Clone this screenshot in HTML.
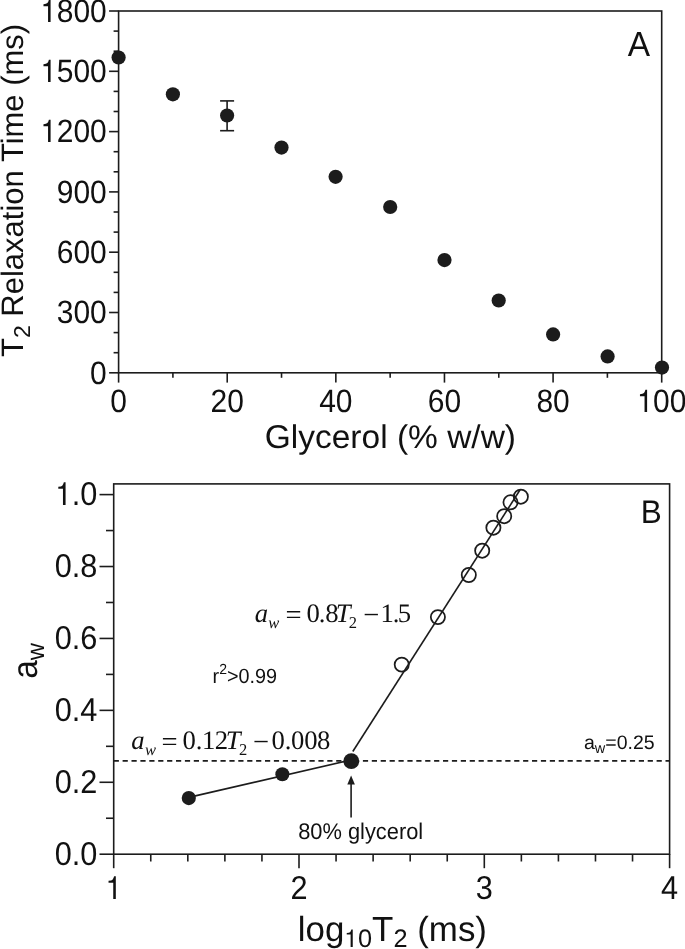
<!DOCTYPE html>
<html><head><meta charset="utf-8"><title>Figure</title><style>
html,body{margin:0;padding:0;background:#fff;}
svg{display:block;} text{text-rendering:geometricPrecision;}
</style></head><body>
<svg width="685" height="949" viewBox="0 0 685 949">
<rect width="685" height="949" fill="#fff"/>
<rect x="118.6" y="11.0" width="543.10" height="361.80" fill="none" stroke="#1c1c1c" stroke-width="1.6"/>
<line x1="109.10" y1="372.80" x2="118.60" y2="372.80" stroke="#1c1c1c" stroke-width="1.6" />
<text transform="translate(106.80,383.50) scale(1,1.075)" font-family="'Liberation Sans', Arial, sans-serif" font-size="30" text-anchor="end" fill="#111" >0</text>
<line x1="113.60" y1="352.70" x2="118.60" y2="352.70" stroke="#1c1c1c" stroke-width="1.6" />
<line x1="113.60" y1="332.60" x2="118.60" y2="332.60" stroke="#1c1c1c" stroke-width="1.6" />
<line x1="109.10" y1="312.50" x2="118.60" y2="312.50" stroke="#1c1c1c" stroke-width="1.6" />
<text transform="translate(106.80,323.20) scale(1,1.075)" font-family="'Liberation Sans', Arial, sans-serif" font-size="30" text-anchor="end" fill="#111" >300</text>
<line x1="113.60" y1="292.40" x2="118.60" y2="292.40" stroke="#1c1c1c" stroke-width="1.6" />
<line x1="113.60" y1="272.30" x2="118.60" y2="272.30" stroke="#1c1c1c" stroke-width="1.6" />
<line x1="109.10" y1="252.20" x2="118.60" y2="252.20" stroke="#1c1c1c" stroke-width="1.6" />
<text transform="translate(106.80,262.90) scale(1,1.075)" font-family="'Liberation Sans', Arial, sans-serif" font-size="30" text-anchor="end" fill="#111" >600</text>
<line x1="113.60" y1="232.10" x2="118.60" y2="232.10" stroke="#1c1c1c" stroke-width="1.6" />
<line x1="113.60" y1="212.00" x2="118.60" y2="212.00" stroke="#1c1c1c" stroke-width="1.6" />
<line x1="109.10" y1="191.90" x2="118.60" y2="191.90" stroke="#1c1c1c" stroke-width="1.6" />
<text transform="translate(106.80,202.60) scale(1,1.075)" font-family="'Liberation Sans', Arial, sans-serif" font-size="30" text-anchor="end" fill="#111" >900</text>
<line x1="113.60" y1="171.80" x2="118.60" y2="171.80" stroke="#1c1c1c" stroke-width="1.6" />
<line x1="113.60" y1="151.70" x2="118.60" y2="151.70" stroke="#1c1c1c" stroke-width="1.6" />
<line x1="109.10" y1="131.60" x2="118.60" y2="131.60" stroke="#1c1c1c" stroke-width="1.6" />
<text transform="translate(106.80,142.30) scale(1,1.075)" font-family="'Liberation Sans', Arial, sans-serif" font-size="30" text-anchor="end" fill="#111" ><tspan font-family="FreeSans, 'Liberation Sans', Arial, sans-serif" font-size="29.11">1</tspan>200</text>
<line x1="113.60" y1="111.50" x2="118.60" y2="111.50" stroke="#1c1c1c" stroke-width="1.6" />
<line x1="113.60" y1="91.40" x2="118.60" y2="91.40" stroke="#1c1c1c" stroke-width="1.6" />
<line x1="109.10" y1="71.30" x2="118.60" y2="71.30" stroke="#1c1c1c" stroke-width="1.6" />
<text transform="translate(106.80,82.00) scale(1,1.075)" font-family="'Liberation Sans', Arial, sans-serif" font-size="30" text-anchor="end" fill="#111" ><tspan font-family="FreeSans, 'Liberation Sans', Arial, sans-serif" font-size="29.11">1</tspan>500</text>
<line x1="113.60" y1="51.20" x2="118.60" y2="51.20" stroke="#1c1c1c" stroke-width="1.6" />
<line x1="113.60" y1="31.10" x2="118.60" y2="31.10" stroke="#1c1c1c" stroke-width="1.6" />
<line x1="109.10" y1="11.00" x2="118.60" y2="11.00" stroke="#1c1c1c" stroke-width="1.6" />
<text transform="translate(106.80,21.70) scale(1,1.075)" font-family="'Liberation Sans', Arial, sans-serif" font-size="30" text-anchor="end" fill="#111" ><tspan font-family="FreeSans, 'Liberation Sans', Arial, sans-serif" font-size="29.11">1</tspan>800</text>
<line x1="118.60" y1="372.80" x2="118.60" y2="382.60" stroke="#1c1c1c" stroke-width="1.6" />
<text transform="translate(118.60,412.40) scale(1,1.075)" font-family="'Liberation Sans', Arial, sans-serif" font-size="30" text-anchor="middle" fill="#111" >0</text>
<line x1="172.91" y1="372.80" x2="172.91" y2="377.80" stroke="#1c1c1c" stroke-width="1.6" />
<line x1="227.22" y1="372.80" x2="227.22" y2="382.60" stroke="#1c1c1c" stroke-width="1.6" />
<text transform="translate(227.22,412.40) scale(1,1.075)" font-family="'Liberation Sans', Arial, sans-serif" font-size="30" text-anchor="middle" fill="#111" >20</text>
<line x1="281.53" y1="372.80" x2="281.53" y2="377.80" stroke="#1c1c1c" stroke-width="1.6" />
<line x1="335.84" y1="372.80" x2="335.84" y2="382.60" stroke="#1c1c1c" stroke-width="1.6" />
<text transform="translate(335.84,412.40) scale(1,1.075)" font-family="'Liberation Sans', Arial, sans-serif" font-size="30" text-anchor="middle" fill="#111" >40</text>
<line x1="390.15" y1="372.80" x2="390.15" y2="377.80" stroke="#1c1c1c" stroke-width="1.6" />
<line x1="444.46" y1="372.80" x2="444.46" y2="382.60" stroke="#1c1c1c" stroke-width="1.6" />
<text transform="translate(444.46,412.40) scale(1,1.075)" font-family="'Liberation Sans', Arial, sans-serif" font-size="30" text-anchor="middle" fill="#111" >60</text>
<line x1="498.77" y1="372.80" x2="498.77" y2="377.80" stroke="#1c1c1c" stroke-width="1.6" />
<line x1="553.08" y1="372.80" x2="553.08" y2="382.60" stroke="#1c1c1c" stroke-width="1.6" />
<text transform="translate(553.08,412.40) scale(1,1.075)" font-family="'Liberation Sans', Arial, sans-serif" font-size="30" text-anchor="middle" fill="#111" >80</text>
<line x1="607.39" y1="372.80" x2="607.39" y2="377.80" stroke="#1c1c1c" stroke-width="1.6" />
<line x1="661.70" y1="372.80" x2="661.70" y2="382.60" stroke="#1c1c1c" stroke-width="1.6" />
<text transform="translate(661.70,412.40) scale(1,1.075)" font-family="'Liberation Sans', Arial, sans-serif" font-size="30" text-anchor="middle" fill="#111" ><tspan font-family="FreeSans, 'Liberation Sans', Arial, sans-serif" font-size="29.11">1</tspan>00</text>
<line x1="227.10" y1="100.90" x2="227.10" y2="130.70" stroke="#1c1c1c" stroke-width="1.6" />
<line x1="220.10" y1="100.90" x2="234.10" y2="100.90" stroke="#1c1c1c" stroke-width="1.6" />
<line x1="220.10" y1="130.70" x2="234.10" y2="130.70" stroke="#1c1c1c" stroke-width="1.6" />
<circle cx="118.6" cy="57.5" r="7.1" fill="#1c1c1c"/>
<circle cx="172.9" cy="94.3" r="7.1" fill="#1c1c1c"/>
<circle cx="227.1" cy="115.5" r="7.1" fill="#1c1c1c"/>
<circle cx="281.5" cy="147.6" r="7.1" fill="#1c1c1c"/>
<circle cx="335.6" cy="176.8" r="7.1" fill="#1c1c1c"/>
<circle cx="390.2" cy="207.0" r="7.1" fill="#1c1c1c"/>
<circle cx="444.5" cy="260.1" r="7.1" fill="#1c1c1c"/>
<circle cx="498.7" cy="300.5" r="7.1" fill="#1c1c1c"/>
<circle cx="553.1" cy="334.4" r="7.1" fill="#1c1c1c"/>
<circle cx="607.6" cy="356.4" r="7.1" fill="#1c1c1c"/>
<circle cx="662.0" cy="367.6" r="7.1" fill="#1c1c1c"/>
<text transform="translate(627.83,55.80) scale(1,1.04)" font-family="'Liberation Sans', Arial, sans-serif" font-size="33.5" text-anchor="start" fill="#111" >A</text>
<text transform="translate(264.72,447.80) scale(1,0.98)" font-family="'Liberation Sans', Arial, sans-serif" font-size="33.5" text-anchor="start" fill="#111" >Glycerol (% w/w)</text>
<text transform="translate(22.8,357) rotate(-90)" font-family="'Liberation Sans', Arial, sans-serif" font-size="31" fill="#111">T<tspan font-size="23" dy="7">2</tspan><tspan dy="-7"> Relaxation Time (ms)</tspan></text>
<rect x="113.7" y="483.9" width="555.90" height="370.30" fill="none" stroke="#1c1c1c" stroke-width="1.6"/>
<line x1="99.50" y1="854.20" x2="113.70" y2="854.20" stroke="#1c1c1c" stroke-width="1.6" />
<text transform="translate(97.40,864.90) scale(1,1.075)" font-family="'Liberation Sans', Arial, sans-serif" font-size="30.7" text-anchor="end" fill="#111" >0.0</text>
<line x1="106.00" y1="818.24" x2="113.70" y2="818.24" stroke="#1c1c1c" stroke-width="1.6" />
<line x1="99.50" y1="782.28" x2="113.70" y2="782.28" stroke="#1c1c1c" stroke-width="1.6" />
<text transform="translate(97.40,792.98) scale(1,1.075)" font-family="'Liberation Sans', Arial, sans-serif" font-size="30.7" text-anchor="end" fill="#111" >0.2</text>
<line x1="106.00" y1="746.32" x2="113.70" y2="746.32" stroke="#1c1c1c" stroke-width="1.6" />
<line x1="99.50" y1="710.36" x2="113.70" y2="710.36" stroke="#1c1c1c" stroke-width="1.6" />
<text transform="translate(97.40,721.06) scale(1,1.075)" font-family="'Liberation Sans', Arial, sans-serif" font-size="30.7" text-anchor="end" fill="#111" >0.4</text>
<line x1="106.00" y1="674.40" x2="113.70" y2="674.40" stroke="#1c1c1c" stroke-width="1.6" />
<line x1="99.50" y1="638.44" x2="113.70" y2="638.44" stroke="#1c1c1c" stroke-width="1.6" />
<text transform="translate(97.40,649.14) scale(1,1.075)" font-family="'Liberation Sans', Arial, sans-serif" font-size="30.7" text-anchor="end" fill="#111" >0.6</text>
<line x1="106.00" y1="602.48" x2="113.70" y2="602.48" stroke="#1c1c1c" stroke-width="1.6" />
<line x1="99.50" y1="566.52" x2="113.70" y2="566.52" stroke="#1c1c1c" stroke-width="1.6" />
<text transform="translate(97.40,577.22) scale(1,1.075)" font-family="'Liberation Sans', Arial, sans-serif" font-size="30.7" text-anchor="end" fill="#111" >0.8</text>
<line x1="106.00" y1="530.56" x2="113.70" y2="530.56" stroke="#1c1c1c" stroke-width="1.6" />
<line x1="99.50" y1="494.60" x2="113.70" y2="494.60" stroke="#1c1c1c" stroke-width="1.6" />
<text transform="translate(97.40,505.30) scale(1,1.075)" font-family="'Liberation Sans', Arial, sans-serif" font-size="30.7" text-anchor="end" fill="#111" ><tspan font-family="FreeSans, 'Liberation Sans', Arial, sans-serif" font-size="29.79">1</tspan>.0</text>
<line x1="113.70" y1="854.20" x2="113.70" y2="868.20" stroke="#1c1c1c" stroke-width="1.6" />
<text transform="translate(113.70,898.80) scale(1,1.075)" font-family="'Liberation Sans', Arial, sans-serif" font-size="30.7" text-anchor="middle" fill="#111" ><tspan font-family="FreeSans, 'Liberation Sans', Arial, sans-serif" font-size="29.79">1</tspan></text>
<line x1="150.76" y1="854.20" x2="150.76" y2="861.50" stroke="#1c1c1c" stroke-width="1.6" />
<line x1="187.82" y1="854.20" x2="187.82" y2="861.50" stroke="#1c1c1c" stroke-width="1.6" />
<line x1="224.88" y1="854.20" x2="224.88" y2="861.50" stroke="#1c1c1c" stroke-width="1.6" />
<line x1="261.94" y1="854.20" x2="261.94" y2="861.50" stroke="#1c1c1c" stroke-width="1.6" />
<line x1="299.00" y1="854.20" x2="299.00" y2="868.20" stroke="#1c1c1c" stroke-width="1.6" />
<text transform="translate(299.00,898.80) scale(1,1.075)" font-family="'Liberation Sans', Arial, sans-serif" font-size="30.7" text-anchor="middle" fill="#111" >2</text>
<line x1="336.06" y1="854.20" x2="336.06" y2="861.50" stroke="#1c1c1c" stroke-width="1.6" />
<line x1="373.12" y1="854.20" x2="373.12" y2="861.50" stroke="#1c1c1c" stroke-width="1.6" />
<line x1="410.18" y1="854.20" x2="410.18" y2="861.50" stroke="#1c1c1c" stroke-width="1.6" />
<line x1="447.24" y1="854.20" x2="447.24" y2="861.50" stroke="#1c1c1c" stroke-width="1.6" />
<line x1="484.30" y1="854.20" x2="484.30" y2="868.20" stroke="#1c1c1c" stroke-width="1.6" />
<text transform="translate(484.30,898.80) scale(1,1.075)" font-family="'Liberation Sans', Arial, sans-serif" font-size="30.7" text-anchor="middle" fill="#111" >3</text>
<line x1="521.36" y1="854.20" x2="521.36" y2="861.50" stroke="#1c1c1c" stroke-width="1.6" />
<line x1="558.42" y1="854.20" x2="558.42" y2="861.50" stroke="#1c1c1c" stroke-width="1.6" />
<line x1="595.48" y1="854.20" x2="595.48" y2="861.50" stroke="#1c1c1c" stroke-width="1.6" />
<line x1="632.54" y1="854.20" x2="632.54" y2="861.50" stroke="#1c1c1c" stroke-width="1.6" />
<line x1="669.60" y1="854.20" x2="669.60" y2="868.20" stroke="#1c1c1c" stroke-width="1.6" />
<text transform="translate(669.60,898.80) scale(1,1.075)" font-family="'Liberation Sans', Arial, sans-serif" font-size="30.7" text-anchor="middle" fill="#111" >4</text>
<line x1="113.70" y1="760.80" x2="669.60" y2="760.80" stroke="#1c1c1c" stroke-width="1.7" stroke-dasharray="5.2 3.7"/>
<line x1="188.80" y1="797.40" x2="351.30" y2="759.90" stroke="#1c1c1c" stroke-width="1.6" />
<line x1="352.80" y1="751.50" x2="520.10" y2="489.80" stroke="#1c1c1c" stroke-width="1.6" />
<circle cx="188.8" cy="798.1" r="7.1" fill="#1c1c1c"/>
<circle cx="282.35" cy="774.3" r="7.0" fill="#1c1c1c"/>
<circle cx="351.3" cy="761.2" r="7.9" fill="#1c1c1c"/>
<circle cx="401.75" cy="664.6" r="7.1" fill="none" stroke="#1c1c1c" stroke-width="1.75"/>
<circle cx="437.9" cy="617.1" r="7.1" fill="none" stroke="#1c1c1c" stroke-width="1.75"/>
<circle cx="468.8" cy="575.0" r="7.1" fill="none" stroke="#1c1c1c" stroke-width="1.75"/>
<circle cx="482.2" cy="550.65" r="7.1" fill="none" stroke="#1c1c1c" stroke-width="1.75"/>
<circle cx="493.4" cy="527.7" r="7.1" fill="none" stroke="#1c1c1c" stroke-width="1.75"/>
<circle cx="504.2" cy="516.2" r="7.1" fill="none" stroke="#1c1c1c" stroke-width="1.75"/>
<circle cx="510.5" cy="502.3" r="7.1" fill="none" stroke="#1c1c1c" stroke-width="1.75"/>
<circle cx="520.85" cy="496.7" r="7.1" fill="none" stroke="#1c1c1c" stroke-width="1.75"/>
<line x1="351.10" y1="817.60" x2="351.10" y2="783.00" stroke="#1c1c1c" stroke-width="1.6" />
<path d="M351.1,775.4 L354.9,784.4 L347.3,784.4 Z" fill="#1c1c1c"/>
<text transform="translate(298.15,838.50) scale(1,1.04)" font-family="'Liberation Sans', Arial, sans-serif" font-size="21.85" text-anchor="start" fill="#111" >80% glycerol</text>
<text transform="translate(640.82,523.30) scale(1,1.04)" font-family="'Liberation Sans', Arial, sans-serif" font-size="31.5" text-anchor="start" fill="#111" >B</text>
<text x="584.0" y="748.6" font-family="'Liberation Sans', Arial, sans-serif" font-size="19.5" fill="#111">a<tspan font-size="14.5" dy="4">w</tspan><tspan dy="-4">=0.25</tspan></text>
<text transform="translate(212.6,682.9) scale(1,1.04)" font-family="'Liberation Sans', Arial, sans-serif" font-size="19.8" fill="#111">r<tspan font-size="14" dy="-8.3">2</tspan><tspan dy="8.3">&gt;0.99</tspan></text>
<text font-family="'Liberation Serif', 'Times New Roman', serif" fill="#111"><tspan x="254.80" y="621.60" font-size="26.7" font-style="italic">a</tspan><tspan x="268.21" y="627.70" font-size="16.5" font-style="italic">w</tspan><tspan x="285.38" y="623.50" font-size="28.5">=</tspan><tspan x="306.58" y="621.60" font-size="26.7">0</tspan><tspan x="318.64" y="621.60" font-size="26.7">.</tspan><tspan x="325.28" y="621.60" font-size="26.7">8</tspan><tspan x="335.65" y="621.60" font-size="26.7" font-style="italic">T</tspan><tspan x="348.87" y="627.70" font-size="16.5">2</tspan><tspan x="363.18" y="623.50" font-size="28.5">−</tspan><tspan x="380.55" y="621.60" font-size="26.7">1</tspan><tspan x="392.64" y="621.60" font-size="26.7">.</tspan><tspan x="397.85" y="621.60" font-size="26.7">5</tspan></text>
<text font-family="'Liberation Serif', 'Times New Roman', serif" fill="#111"><tspan x="131.30" y="748.80" font-size="26.7" font-style="italic">a</tspan><tspan x="144.91" y="754.80" font-size="16.5" font-style="italic">w</tspan><tspan x="161.58" y="750.70" font-size="28.5">=</tspan><tspan x="182.48" y="748.80" font-size="26.7">0</tspan><tspan x="195.74" y="748.80" font-size="26.7">.</tspan><tspan x="201.95" y="748.80" font-size="26.7">1</tspan><tspan x="214.63" y="748.80" font-size="26.7">2</tspan><tspan x="225.65" y="748.80" font-size="26.7" font-style="italic">T</tspan><tspan x="238.97" y="754.80" font-size="16.5">2</tspan><tspan x="252.88" y="750.70" font-size="28.5">−</tspan><tspan x="271.58" y="748.80" font-size="26.7">0</tspan><tspan x="284.64" y="748.80" font-size="26.7">.</tspan><tspan x="290.98" y="748.80" font-size="26.7">0</tspan><tspan x="304.28" y="748.80" font-size="26.7">0</tspan><tspan x="316.98" y="748.80" font-size="26.7">8</tspan></text>
<text transform="translate(37.2,678.8) rotate(-90) scale(0.95,1)" font-family="'Liberation Sans', Arial, sans-serif" font-size="35" fill="#111">a<tspan font-size="25" dy="6.7">w</tspan></text>
<text x="297.8" y="941.2" font-family="'Liberation Sans', Arial, sans-serif" font-size="34.9" fill="#111">log<tspan font-size="25.3" dy="6"><tspan font-family="FreeSans, 'Liberation Sans', Arial, sans-serif" font-size="24.55">1</tspan>0</tspan><tspan dy="-6">T</tspan><tspan font-size="25.3" dy="6">2</tspan><tspan dy="-6"> (ms)</tspan></text>
</svg>
</body></html>
